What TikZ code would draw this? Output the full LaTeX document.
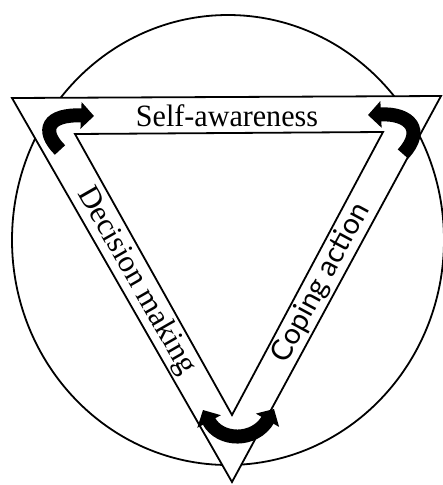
\documentclass[tikz,border=0pt]{standalone}
\usepackage{fontspec}
\setmainfont{Liberation Serif}
\newfontfamily\copingfont{Lato}
\usetikzlibrary{arrows.meta}

\begin{document}
\begin{tikzpicture}[>=latex, x=1pt, y=-1pt]
			\tikzset{
				rim/.style={line width=1.8pt, line join=miter},
				bandtext/.style={font=\fontsize{31}{32}\selectfont, inner sep=0pt},
				turnhead/.tip={Triangle[length=13pt, width=26pt]},
				turnarrow/.style={line width=14pt, -turnhead},
			}
			\useasboundingbox (0,0) rectangle (443,485);
			% the circle behind the triangle
			\draw[rim] (228,240) ellipse [x radius=216, y radius=225];
			% outer and inner triangle
			\coordinate (A) at (12,98);
			\coordinate (B) at (441,96);
			\coordinate (C) at (232,482);
			\coordinate (a) at (75,134);
			\coordinate (b) at (383,132);
			\coordinate (c) at (232,415);
			\filldraw[rim, fill=white] (A) -- (B) -- (C) -- cycle;
			\draw[rim] (a) -- (b) -- (c) -- cycle;
			% band labels
			\node[bandtext, xscale=0.97] (self) at (227,116) {Self-awareness};
			\node[bandtext, rotate=-60.2] (decision) at (136,281) {Decision making};
			\node[bandtext, font=\copingfont\fontsize{29}{30}\selectfont, rotate=61.6] (coping) at (321,283) {Coping action};
			% turning arrows in the corners
			\coordinate (tlfrom) at (60,150);
			\coordinate (tlto) at (94,116);
			\coordinate (trfrom) at (403,154);
			\coordinate (trto) at (368,115);
			\coordinate (bleft) at (203,410);
			\coordinate (bright) at (274,409);
			\draw[turnarrow] (tlfrom) .. controls (40,130) and (48,114) .. (tlto);
			\draw[turnarrow] (trfrom) .. controls (425,130) and (410,113) .. (trto);
			\draw[turnarrow, turnhead-turnhead] (bleft) .. controls (220,442) and (255,442) .. (bright);
		\end{tikzpicture}
\end{document}
